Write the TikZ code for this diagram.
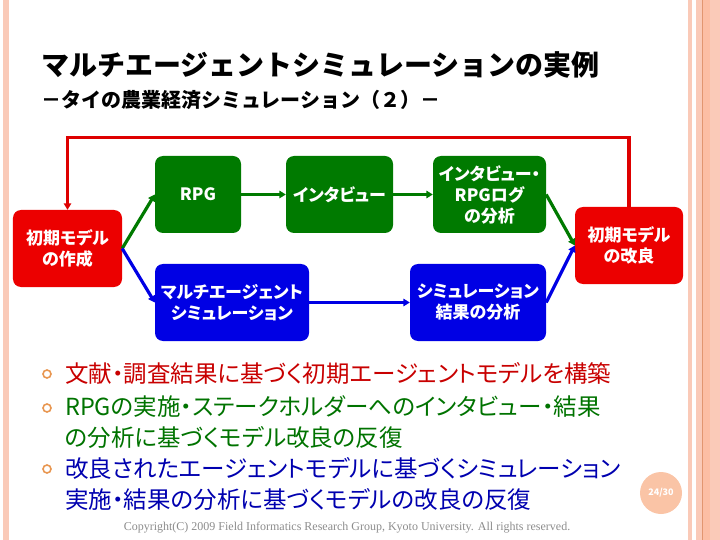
\documentclass[tikz,border=0pt]{standalone}
\usepackage{fontspec}
\setmainfont{Noto Sans CJK JP}
\newfontfamily\jpp{Noto Sans CJK JP}[CharacterWidth=AlternateProportional]
\newfontfamily\cpfont{Liberation Serif}
\usepackage{tikz}
\usetikzlibrary{calc,arrows.meta}

\definecolor{boxred}{RGB}{236,0,0}
\definecolor{boxgreen}{RGB}{0,122,0}
\definecolor{boxblue}{RGB}{0,0,228}
\definecolor{linered}{RGB}{222,0,0}
\definecolor{txtred}{RGB}{200,0,0}
\definecolor{txtgreen}{RGB}{0,115,0}
\definecolor{txtblue}{RGB}{0,0,175}
\definecolor{stripe}{RGB}{250,202,184}
\definecolor{stripedark}{RGB}{226,150,112}
\definecolor{stripemid}{RGB}{252,190,164}
\definecolor{dotorange}{RGB}{232,150,80}
\definecolor{pagefill}{RGB}{250,196,166}

\begin{document}
\begin{tikzpicture}[x=1bp,y=-1bp,
    box/.style={rounded corners=8bp,text=white,align=center,inner sep=0pt,
        minimum height=77bp,font=\jpp\bfseries\fontsize{17bp}{21bp}\selectfont},
    redbox/.style={box,fill=boxred},
    greenbox/.style={box,fill=boxgreen},
    bluebox/.style={box,fill=boxblue},
    link/.style={line width=3.2bp,-{Triangle[length=6.5bp,width=7.5bp]}},
    bullet/.style={circle,draw=dotorange,line width=1.6bp,minimum size=8bp,inner sep=0pt},
    item/.style={anchor=west,inner sep=0pt,font=\jpp\fontsize{23.5bp}{26bp}\selectfont}]
       \useasboundingbox(0,0)rectangle(720,540);%画面

       \fill[stripe](3,0)rectangle(9,540);%左の帯
       \fill[stripe](688,0)rectangle(692,540);%右の帯
       \fill[stripe](696,0)rectangle(720,540);
       \fill[stripemid](703,0)rectangle(710,540);
       \fill[stripedark](702,0)rectangle(703.2,540);

       \node[anchor=west,inner sep=0pt,font=\bfseries\fontsize{28bp}{32bp}\selectfont]
           (title)at(41,65){マルチエージェントシミュレーションの実例};%タイトル
       \node[anchor=west,inner sep=0pt,font=\bfseries\fontsize{20bp}{24bp}\selectfont]
           (subtitle)at(41,100){－タイの農業経済シミュレーション（２）－};%サブタイトル

       \node[redbox,minimum width=109bp](shoki)at(67.5,248.5){初期モデル\\の作成};
       \node[greenbox,minimum width=86bp](rpg)at(198,194.5){RPG};
       \node[greenbox,minimum width=107bp](inta)at(339.5,194.5){インタビュー};
       \node[greenbox,minimum width=113bp](bunseki)at(489.5,194.5){インタビュー・\\RPGログ\\の分析};
       \node[redbox,minimum width=108bp](kaizen)at(629,245.5){初期モデル\\の改良};
       \node[bluebox,minimum width=154bp](mas)at(232,302.5){マルチエージェント\\シミュレーション};
       \node[bluebox,minimum width=136bp](kekka)at(478,302.5){シミュレーション\\結果の分析};

       \draw[link,boxgreen](shoki.east)--(rpg.west);
       \draw[link,boxgreen](rpg.east)--(inta.west);
       \draw[link,boxgreen](inta.east)--(bunseki.west);
       \draw[link,boxgreen](bunseki.east)--(kaizen.west);
       \draw[link,boxblue](shoki.east)--(mas.west);
       \draw[link,boxblue](mas.east)--(kekka.west);
       \draw[link,boxblue](kekka.east)--(kaizen.west);

       \coordinate(top)at(0,137.5);%ループの上端
       \draw[link,linered](kaizen.north)|-(top-|shoki.north)--(shoki.north);%改良から作成へ

       \node[bullet](b1)at(47,374){};
       \node[bullet](b2)at(47,408){};
       \node[bullet](b3)at(47,469){};
       \node[item,text=txtred](t1)at(65,373){文献・調査結果に基づく初期エージェントモデルを構築};
       \node[item,text=txtgreen](t2)at(65,407){RPGの実施・ステークホルダーへのインタビュー・結果};
       \node[item,text=txtgreen](t2b)at(65,437.5){の分析に基づくモデル改良の反復};
       \node[item,text=txtblue](t3)at(65,468.5){改良されたエージェントモデルに基づくシミュレーション};
       \node[item,text=txtblue](t3b)at(65,499){実施・結果の分析に基づくモデルの改良の反復};

       \node[circle,fill=pagefill,minimum size=42bp,inner sep=0pt,text=white,
           font=\bfseries\fontsize{9bp}{10bp}\selectfont](page)at(661,493){24/30};%ページ番号

       \node[inner sep=0pt,text=black!45,font=\cpfont\fontsize{12bp}{13bp}\selectfont]
           (copy)at(347,528){Copyright(C) 2009 Field Informatics Research Group, Kyoto University. All rights reserved.};
\end{tikzpicture}
\end{document}
